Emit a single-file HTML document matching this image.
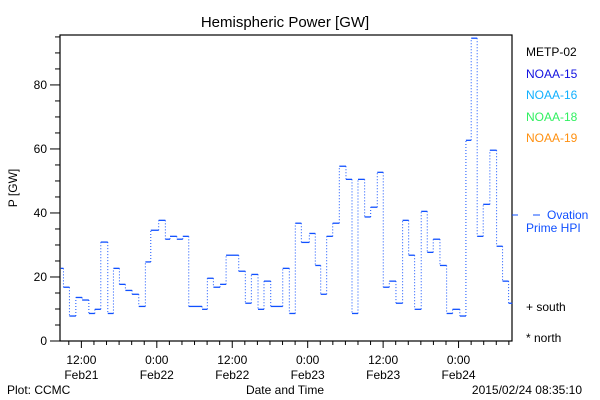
<!DOCTYPE html>
<html><head><meta charset="utf-8"><style>
html,body{margin:0;padding:0;background:#fff;width:600px;height:400px;overflow:hidden}
svg text{font-family:"Liberation Sans",sans-serif}
</style></head><body>
<svg id="chart" width="600" height="400" viewBox="0 0 600 400" xmlns="http://www.w3.org/2000/svg">
<rect x="0" y="0" width="600" height="400" fill="#fff"/>
<text x="285" y="27" font-size="15" text-anchor="middle">Hemispheric Power [GW]</text>
<text x="0" y="0" font-size="12" text-anchor="middle" transform="translate(17,188) rotate(-90)">P [GW]</text>
<g id="plot"></g>
<g font-size="12">
<text x="526" y="56" fill="#000">METP-02</text>
<text x="526" y="78" fill="#1010e0">NOAA-15</text>
<text x="526" y="99" fill="#10b0ff">NOAA-16</text>
<text x="526" y="121" fill="#30f060">NOAA-18</text>
<text x="526" y="142" fill="#ff9010">NOAA-19</text>
<line x1="512" y1="215" x2="518" y2="215" stroke="#1050ff" stroke-width="1"/>
<line x1="533" y1="215" x2="540" y2="215" stroke="#1050ff" stroke-width="1"/>
<text x="547" y="219" fill="#1050ff">Ovation</text>
<text x="526" y="232" fill="#1050ff">Prime HPI</text>
<text x="526" y="311" fill="#000">+ south</text>
<text x="526" y="342" fill="#000">* north</text>
</g>
<text x="7" y="394" font-size="12">Plot: CCMC</text>
<text x="285" y="394" font-size="12" text-anchor="middle">Date and Time</text>
<text x="582" y="394" font-size="12" text-anchor="end">2015/02/24 08:35:10</text>
</svg>
<script>
const stepStartHours=[8.73,9.15,10.1,11.12,12.12,13.19,14.14,15.09,16.2,17.1,18.05,19.0,20.07,21.13,22.18,23.04,24.3,25.36,26.1,27.18,28.13,29.08,31.2,32.04,33.0,34.06,35.02,37.03,38.08,39.04,40.1,41.05,42.12,44.03,45.08,46.03,46.99,48.26,49.21,50.07,51.02,51.98,53.03,54.09,55.05,56.0,57.06,58.02,59.07,60.02,60.98,62.04,63.1,64.06,65.01,66.06,67.02,67.97,69.04,70.1,71.05,72.2,73.17,74.01,74.96,75.92,76.98,78.05,79.0,79.96];
const seriesEndHour=80.53;
const powerValues=[22.7,16.8,7.8,13.6,12.8,8.6,9.9,30.9,8.6,22.7,17.7,15.8,14.6,10.8,24.7,34.6,37.7,31.8,32.7,31.8,32.7,10.8,9.9,19.6,16.8,17.7,26.8,21.8,11.8,20.8,9.9,18.7,10.8,22.7,8.6,36.8,30.8,33.6,23.6,14.6,32.7,36.8,54.6,50.5,8.6,50.5,38.75,41.8,52.7,16.8,18.7,11.8,37.7,26.8,9.9,40.5,27.7,31.8,23.6,8.6,9.9,7.8,62.7,94.6,32.7,42.7,59.6,29.6,18.7,11.8];
const yTickValues=[0,20,40,60,80];
const xTickHours=[12,24,36,48,60,72];
const xTickTimeLabels=["12:00","0:00","12:00","0:00","12:00","0:00"];
const xTickDateLabels=["Feb21","Feb22","Feb22","Feb23","Feb23","Feb24"];
const xDomain=[8.6,80.5];
const yDomain=[0,95.6];

const L=60,R=512,T=35,B=341;
function xs(h){return L+(h-xDomain[0])/(xDomain[1]-xDomain[0])*(R-L);}
function ys(v){return B-(v-yDomain[0])/(yDomain[1]-yDomain[0])*(B-T);}
const NS="http://www.w3.org/2000/svg";
const g=document.getElementById('plot');
function mk(tag,attrs){const e=document.createElementNS(NS,tag);for(const k in attrs)e.setAttribute(k,attrs[k]);g.appendChild(e);return e;}

let frame=mk('rect',{x:L,y:T,width:R-L,height:B-T,fill:'none',stroke:'#000','stroke-width':1.2});



// y ticks: minor every 5
for(let v=0;v<=yDomain[1];v+=5){
  const major=v%20===0;
  const t=mk('line',{x1:major?50:55,x2:L,y1:ys(v),y2:ys(v),stroke:'#000','stroke-width':1});
  
  
}
yTickValues.forEach(v=>{
  const t=mk('text',{x:47,y:ys(v)+4,'font-size':12,'text-anchor':'end'});
  t.textContent=v;
  
  
});
// x ticks minor every 2h
for(let h=10;h<=xDomain[1];h+=2){
  const major=h%12===0;
  const t=mk('line',{x1:xs(h),x2:xs(h),y1:B,y2:major?B+7:B+4,stroke:'#000','stroke-width':1});
  
  
}
xTickHours.forEach((h,i)=>{
  const a=mk('text',{x:xs(h),y:364,'font-size':12,'text-anchor':'middle'});
  a.textContent=xTickTimeLabels[i];
  
  
  const b=mk('text',{x:xs(h),y:379,'font-size':12,'text-anchor':'middle'});
  b.textContent=xTickDateLabels[i];
  
  
});
// series steps
for(let i=0;i<powerValues.length;i++){
  const x1=xs(stepStartHours[i]);
  const x2=i+1<stepStartHours.length?xs(stepStartHours[i+1]):xs(seriesEndHour);
  const y=ys(powerValues[i]);
  const s=mk('line',{x1:x1,x2:x2,y1:y,y2:y,stroke:'#1050ff','stroke-width':1.3});
  
  
  if(i+1<powerValues.length){
    const y2=ys(powerValues[i+1]);
    const v=mk('line',{x1:x2,x2:x2,y1:y,y2:y2,stroke:'#1050ff','stroke-width':1,'stroke-dasharray':'1,2'});
    
    
  }
}
</script>
</body></html>
